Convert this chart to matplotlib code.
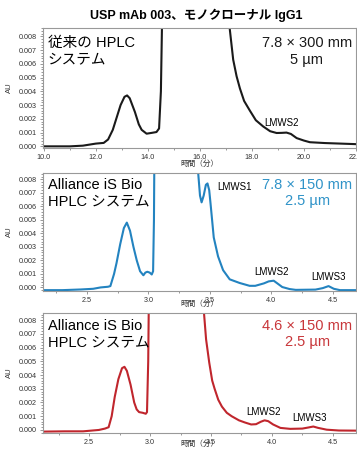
import matplotlib
matplotlib.use("Agg")
import matplotlib.pyplot as plt
from matplotlib.ticker import MultipleLocator, FormatStrFormatter

plt.rcParams['font.family'] = ['Liberation Sans', 'Noto Sans CJK JP', 'DejaVu Sans']

# --- data (time in min, absorbance in AU) ---
title = "USP mAb 003、モノクローナル IgG1"

# conventional HPLC, 7.8 x 300 mm column
legacy_t = [9.96, 10.5, 11.0, 11.5, 12.0, 12.3, 12.47, 12.65, 12.8, 12.95, 13.1, 13.2,
            13.3, 13.5, 13.65, 13.76, 13.95, 14.15, 14.33, 14.43, 14.5, 14.57,
            17.10, 17.15, 17.28, 17.41, 17.54, 17.7, 17.92, 18.15, 18.43, 18.7, 18.95,
            19.15, 19.33, 19.5, 19.72, 20.0, 20.23, 20.8, 21.4, 22.0]
legacy_au = [0.0, 0.0, 0.0, 0.00005, 0.0002, 0.00025, 0.0005, 0.0012, 0.0021, 0.0030, 0.0036, 0.0037,
             0.0035, 0.0025, 0.0016, 0.0012, 0.00092, 0.00098, 0.00104, 0.0013, 0.004, 0.012,
             0.012, 0.0085, 0.0063, 0.0051, 0.0042, 0.0033, 0.0026, 0.0019, 0.00145, 0.0011, 0.00097,
             0.00098, 0.0010, 0.0009, 0.0006, 0.00042, 0.0003, 0.00024, 0.0002, 0.00016]

# Alliance iS Bio, 7.8 x 150 mm column
bio78_t = [2.14, 2.3, 2.45, 2.55, 2.61, 2.67, 2.69, 2.72, 2.74, 2.77, 2.80, 2.824, 2.85, 2.878,
           2.905, 2.932, 2.959, 2.975, 2.991, 3.01, 3.027, 3.038, 3.045, 3.050,
           3.400, 3.405, 3.42, 3.433, 3.45, 3.468, 3.481, 3.495, 3.506, 3.532, 3.567, 3.608,
           3.662, 3.743, 3.824, 3.87, 3.94, 3.98, 4.02, 4.05, 4.09, 4.15, 4.2, 4.36, 4.42,
           4.467, 4.51, 4.56, 4.69]
bio78_au = [-0.0002, -0.0002, -0.00015, -0.0001, 0.0, 0.00005, 0.0001, 0.0010, 0.0018, 0.0032, 0.0044,
            0.0048, 0.0042, 0.0030, 0.0020, 0.0012, 0.0009, 0.0011, 0.00116, 0.0011, 0.00096, 0.0012,
            0.005, 0.012,
            0.012, 0.0085, 0.0068, 0.0063, 0.0068, 0.0076, 0.0077, 0.0072, 0.0062, 0.0037, 0.0023,
            0.00128, 0.0006, 0.00033, 0.00012, 0.00012, 0.0003, 0.00045, 0.0005, 0.0003, 0.00003,
            -0.00012, -0.00018, -0.00016, -0.00005, 0.0001, -0.0001, -0.0002, -0.0002]

# Alliance iS Bio, 4.6 x 150 mm column
bio46_t = [2.12, 2.3, 2.45, 2.58, 2.63, 2.66, 2.685, 2.71, 2.74, 2.77, 2.79, 2.81, 2.84, 2.87,
           2.89, 2.91, 2.94, 2.965, 2.975, 2.985, 2.993,
           3.435, 3.443, 3.46, 3.486, 3.51, 3.53, 3.56, 3.59, 3.63, 3.67, 3.73, 3.78, 3.83,
           3.87, 3.91, 3.94, 3.97, 4.01, 4.07, 4.15, 4.25, 4.30, 4.34, 4.38, 4.45, 4.55, 4.69]
bio46_au = [-0.00012, -0.0001, -0.0001, 0.0, 0.0001, 0.0002, 0.0010, 0.0024, 0.0037, 0.0045, 0.0046,
            0.0043, 0.0033, 0.0020, 0.0015, 0.0013, 0.00125, 0.00118, 0.0013, 0.005, 0.012,
            0.012, 0.0085, 0.0066, 0.0049, 0.0036, 0.0030, 0.0022, 0.0017, 0.00125, 0.0010,
            0.0007, 0.00054, 0.0004, 0.00042, 0.0006, 0.0007, 0.00064, 0.0004, 0.00015, 0.00008,
            0.0001, 0.00018, 0.00025, 0.00015, 0.00002, -0.00004, -0.00005]

# peak labels (name, time, AU)
legacy_peaks = [("LMWS2", 19.15, 0.0017)]
bio78_peaks = [("LMWS1", 3.557, 0.0074, 'left'), ("LMWS2", 4.0, 0.00117, 'center'),
               ("LMWS3", 4.465, 0.0008, 'center')]
bio46_peaks = [("LMWS2", 3.93, 0.00133), ("LMWS3", 4.31, 0.00085)]

BLACK = '#1a1a1a'
BLUE = '#2383c0'
BLUE_TXT = '#2f93c8'
RED = '#c0262d'
RED_TXT = '#c8363a'

fig = plt.figure(figsize=(3.57, 4.49), dpi=100)


def style_axis(ax, xlim, ylim, xmajor, xminor, fmt, label_y):
    ax.set_xlim(*xlim)
    ax.set_ylim(*ylim)
    ax.xaxis.set_major_locator(MultipleLocator(xmajor))
    ax.xaxis.set_minor_locator(MultipleLocator(xminor))
    ax.xaxis.set_major_formatter(FormatStrFormatter(fmt))
    ax.yaxis.set_major_locator(MultipleLocator(0.001))
    ax.yaxis.set_minor_locator(MultipleLocator(0.0002))
    ax.yaxis.set_major_formatter(FormatStrFormatter('%.3f'))
    ax.tick_params(which='both', direction='out', color='#888888', labelsize=5.2,
                   labelcolor='#333333', width=0.6)
    ax.tick_params(which='major', length=2.5, pad=2)
    ax.tick_params(which='minor', length=1.5)
    for sp in ax.spines.values():
        sp.set_color('#999999')
        sp.set_linewidth(0.8)
    ax.set_ylabel('AU', fontsize=5.5, color='#333333')
    ax.yaxis.set_label_coords(-0.095, 0.5)
    ax.set_xlabel('時間（分）', fontsize=5.5, color='#333333', va='center')
    ax.xaxis.set_label_coords(0.5, label_y)


# panel 1
ax1 = fig.add_axes([0.120, 0.671, 0.877, 0.2666])
ax1.plot(legacy_t, legacy_au, color=BLACK, lw=1.5)
style_axis(ax1, (9.96, 22.0), (-0.0001, 0.0086), 2.0, 1.0, '%.1f', -0.135)
ax1.text(0.016, 0.93, "従来の HPLC\nシステム", transform=ax1.transAxes, fontsize=10.5,
         ha='left', va='top', linespacing=1.2)
ax1.text(0.843, 0.93, "7.8 × 300 mm\n5 µm", transform=ax1.transAxes, fontsize=10.5,
         ha='center', va='top', linespacing=1.2, color=BLACK)
for name, t, au in legacy_peaks:
    ax1.text(t, au, name, fontsize=7, ha='center', va='center')

# panel 2
ax2 = fig.add_axes([0.120, 0.352, 0.877, 0.2635])
ax2.plot(bio78_t, bio78_au, color=BLUE, lw=1.5)
style_axis(ax2, (2.14, 4.69), (-0.00026, 0.0085), 0.5, 0.25, '%.1f', -0.11)
ax2.text(0.016, 0.955, "Alliance iS Bio\nHPLC システム", transform=ax2.transAxes,
         fontsize=10.5, ha='left', va='top', linespacing=1.2)
ax2.text(0.845, 0.955, "7.8 × 150 mm\n2.5 µm", transform=ax2.transAxes, fontsize=10.5,
         ha='center', va='top', linespacing=1.2, color=BLUE_TXT)
for name, t, au, ha in bio78_peaks:
    ax2.text(t, au, name, fontsize=7, ha=ha, va='center')

# panel 3
ax3 = fig.add_axes([0.120, 0.0363, 0.877, 0.266])
ax3.plot(bio46_t, bio46_au, color=RED, lw=1.5)
style_axis(ax3, (2.12, 4.69), (-0.0002, 0.0085), 0.5, 0.25, '%.1f', -0.095)
ax3.text(0.016, 0.955, "Alliance iS Bio\nHPLC システム", transform=ax3.transAxes,
         fontsize=10.5, ha='left', va='top', linespacing=1.2)
ax3.text(0.845, 0.955, "4.6 × 150 mm\n2.5 µm", transform=ax3.transAxes, fontsize=10.5,
         ha='center', va='top', linespacing=1.2, color=RED_TXT)
for name, t, au in bio46_peaks:
    ax3.text(t, au, name, fontsize=7, ha='center', va='center')

fig.text(0.549, 1 - 15 / 449, title, fontsize=9, fontweight='bold', ha='center', va='center')

fig.savefig('out.png', dpi=100)
